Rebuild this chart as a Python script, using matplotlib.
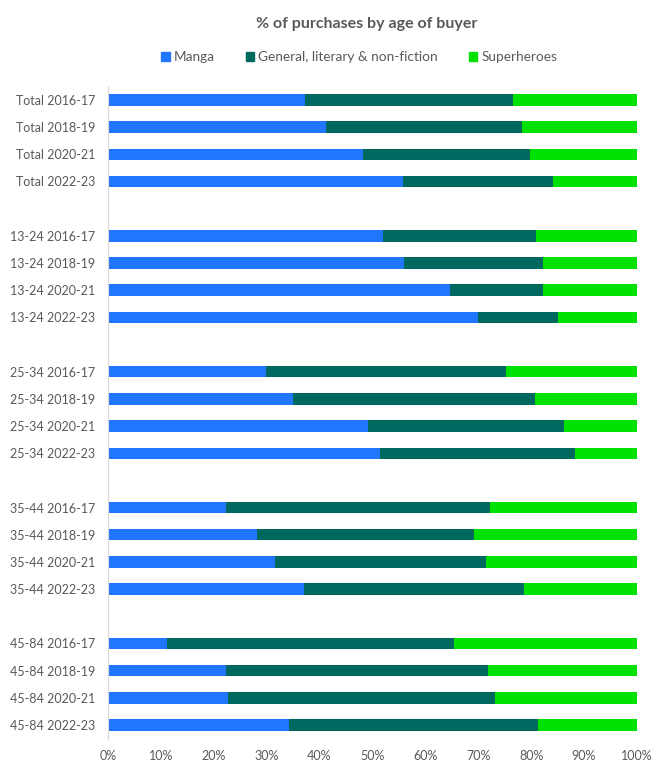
import matplotlib
matplotlib.use('Agg')
from matplotlib import pyplot as plt
from matplotlib.patches import Patch

plt.rcParams['font.family'] = ['Lato', 'DejaVu Sans']

groups = ['Total', '13-24', '25-34', '35-44', '45-84']
periods = ['2016-17', '2018-19', '2020-21', '2022-23']

# % of purchases, one row per group, one value per period
manga = [
    [37.3, 41.2, 48.3, 55.7],
    [52.0, 55.9, 64.6, 70.0],
    [29.9, 35.0, 49.2, 51.5],
    [22.4, 28.1, 31.6, 37.0],
    [11.2, 22.4, 22.7, 34.3],
]
general = [
    [39.3, 37.1, 31.5, 28.5],
    [29.0, 26.4, 17.7, 15.0],
    [45.3, 45.8, 37.0, 36.7],
    [49.8, 41.1, 39.9, 41.7],
    [54.3, 49.5, 50.5, 47.0],
]
superheroes = [
    [23.4, 21.7, 20.2, 15.8],
    [19.0, 17.7, 17.7, 15.0],
    [24.8, 19.2, 13.8, 11.8],
    [27.8, 30.8, 28.5, 21.3],
    [34.5, 28.1, 26.8, 18.7],
]

series_names = ['Manga', 'General, literary & non-fiction', 'Superheroes']
colors = ['#2176FF', '#00695F', '#00E100']
text_col = '#595959'

fig = plt.figure(figsize=(6.58, 7.71), dpi=100)
ax = fig.add_axes([0.164, 0.042, 0.804, 0.846])

ys, labels, m, g, s = [], [], [], [], []
pos = 0
for gi, grp in enumerate(groups):
    for pi, per in enumerate(periods):
        ys.append(pos)
        labels.append(f'{grp} {per}')
        m.append(manga[gi][pi])
        g.append(general[gi][pi])
        s.append(superheroes[gi][pi])
        pos += 1
    pos += 1  # blank slot between groups

left2 = [a + b for a, b in zip(m, g)]
h = 0.42
ax.barh(ys, m, height=h, color=colors[0])
ax.barh(ys, g, left=m, height=h, color=colors[1])
ax.barh(ys, s, left=left2, height=h, color=colors[2])

ax.set_ylim(23.5, -0.5)
ax.set_xlim(0, 100)
ax.set_yticks(ys)
ax.set_yticklabels(labels)
ax.set_xticks(range(0, 101, 10))
ax.set_xticklabels([f'{v}%' for v in range(0, 101, 10)])
ax.tick_params(axis='both', length=0, labelsize=9, colors=text_col)
ax.tick_params(axis='y', pad=9)
ax.tick_params(axis='x', pad=8)
for side in ['top', 'right', 'bottom']:
    ax.spines[side].set_visible(False)
ax.spines['left'].set_color('#D9D9D9')

fig.text(0.557, 0.969, '% of purchases by age of buyer', ha='center', va='center',
         fontsize=11.5, fontweight='bold', color=text_col)

handles = [Patch(color=c, label=n) for c, n in zip(colors, series_names)]
fig.legend(handles=handles, loc='center', bbox_to_anchor=(0.546, 0.926), ncol=3,
           frameon=False, handlelength=0.6, handleheight=0.6, handletextpad=0.3,
           columnspacing=2.3, fontsize=9.8, labelcolor=text_col)

fig.savefig('out.png', dpi=100)
